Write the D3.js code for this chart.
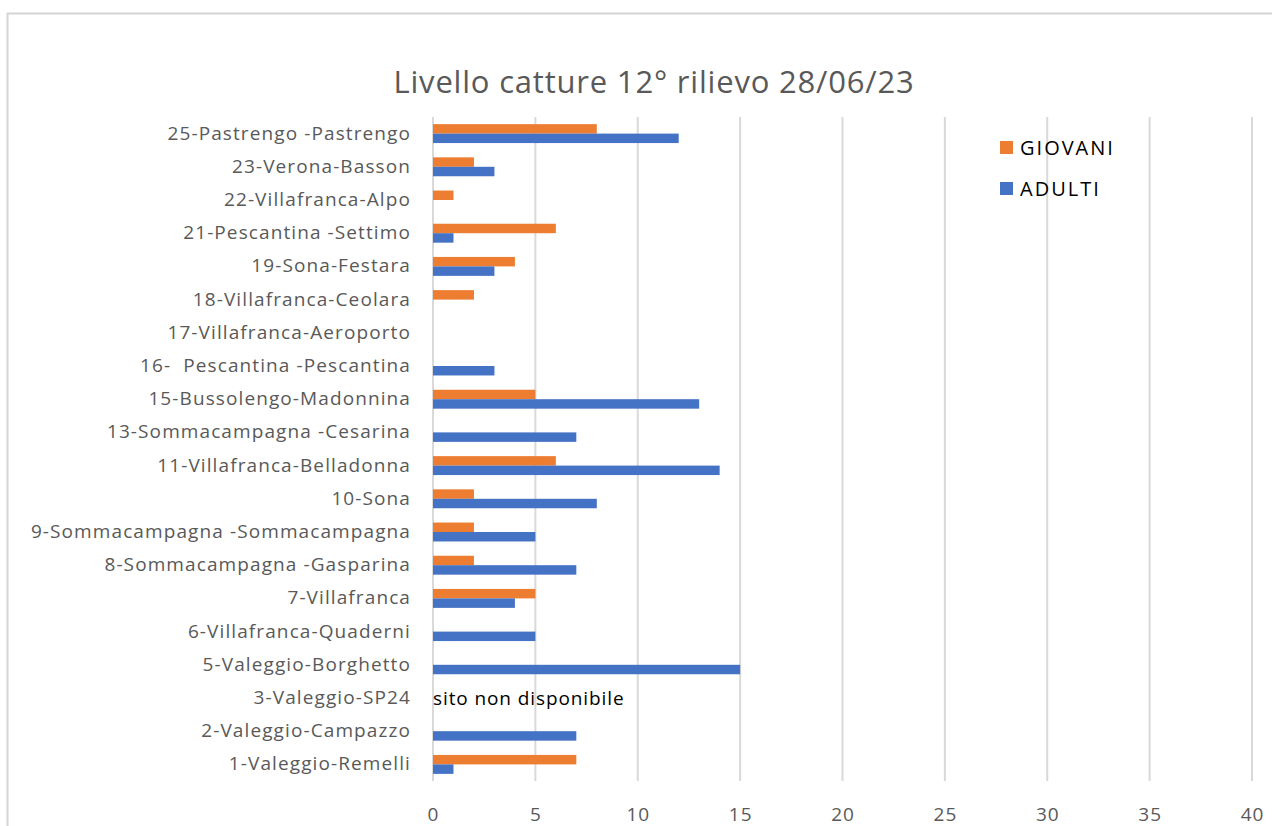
<!DOCTYPE html>
<html>
<head>
<meta charset="utf-8">
<script src="https://cdn.jsdelivr.net/npm/d3@7"></script>
<style>
  body { margin: 0; background: #fff; }
  text { font-family: "Open Sans", "Liberation Sans", sans-serif; }
</style>
</head>
<body>
<div id="chart"></div>
<script>
// Chart data (top to bottom as in the picture)
var categories = [
    "25-Pastrengo -Pastrengo", "23-Verona-Basson", "22-Villafranca-Alpo",
    "21-Pescantina -Settimo", "19-Sona-Festara", "18-Villafranca-Ceolara",
    "17-Villafranca-Aeroporto", "16-  Pescantina -Pescantina", "15-Bussolengo-Madonnina",
    "13-Sommacampagna -Cesarina", "11-Villafranca-Belladonna", "10-Sona",
    "9-Sommacampagna -Sommacampagna", "8-Sommacampagna -Gasparina", "7-Villafranca",
    "6-Villafranca-Quaderni", "5-Valeggio-Borghetto", "3-Valeggio-SP24",
    "2-Valeggio-Campazzo", "1-Valeggio-Remelli"
];
var giovani = [8, 2, 1, 6, 4, 2, 0, 0, 5, 0, 6, 2, 2, 2, 5, 0, 0, null, 0, 7];
var adulti  = [12, 3, 0, 1, 3, 0, 0, 3, 13, 7, 14, 8, 5, 7, 4, 5, 15, null, 7, 1];
var seriesNames = ["GIOVANI", "ADULTI"];
var seriesColors = ["#ED7D31", "#4472C4"];
var xTicks = [0, 5, 10, 15, 20, 25, 30, 35, 40];
var noteCategory = "3-Valeggio-SP24";
var noteText = "sito non disponibile";

var svgWidth = 1272;
var svgHeight = 826;

var svg = d3.select("#chart")
    .append("svg")
    .attr("width", svgWidth)
    .attr("height", svgHeight);

// outer frame
svg.append("rect")
    .attr("x", 7.5).attr("y", 13.5)
    .attr("width", 1300).attr("height", 900)
    .attr("fill", "#fff")
    .attr("stroke", "#d4d4d4")
    .attr("stroke-width", 2);

var plot = { left: 433, right: 1252, top: 117, bottom: 781 };

var x = d3.scaleLinear()
    .domain([0, 40])
    .range([plot.left, plot.right]);

var y = d3.scaleBand()
    .domain(categories)
    .range([plot.top, plot.bottom])
    .paddingInner(0.43)
    .paddingOuter(0.215);

var inner = d3.scaleBand()
    .domain(seriesNames)
    .range([0, y.bandwidth()]);

// gridlines
svg.append("g")
    .selectAll("line")
    .data(xTicks)
    .enter()
    .append("line")
    .attr("x1", d => x(d)).attr("x2", d => x(d))
    .attr("y1", plot.top).attr("y2", plot.bottom)
    .attr("stroke", "#d9d9d9")
    .attr("stroke-width", 2);

// x axis labels
var bottomAxis = d3.axisBottom(x).tickValues(xTicks).tickSize(0).tickPadding(0);
var xAxis = svg.append("g")
    .attr("transform", `translate(0, ${plot.bottom})`)
    .call(bottomAxis);
xAxis.select(".domain").remove();
xAxis.selectAll("text")
    .attr("y", 40)
    .attr("dy", 0)
    .attr("fill", "#595959")
    .attr("font-size", "19px")
    .attr("letter-spacing", "1px")
    .style("font-family", "'Open Sans', sans-serif");

// category labels
var leftAxis = d3.axisLeft(y).tickSize(0).tickPadding(22);
var yAxis = svg.append("g")
    .attr("transform", `translate(${plot.left}, 0)`)
    .call(leftAxis);
yAxis.select(".domain").remove();
yAxis.selectAll("text")
    .attr("fill", "#595959")
    .attr("font-size", "19px")
    .attr("letter-spacing", "1.1px")
    .style("font-family", "'Open Sans', sans-serif")
    .style("white-space", "pre");

// bars
var rows = categories.map((c, i) => ({ cat: c, values: [giovani[i], adulti[i]] }));
var groups = svg.append("g")
    .selectAll("g")
    .data(rows)
    .enter()
    .append("g")
    .attr("transform", d => `translate(0, ${y(d.cat)})`);

groups.selectAll("rect")
    .data(d => d.values.map((v, j) => ({ name: seriesNames[j], value: v, color: seriesColors[j] })))
    .enter()
    .filter(d => d.value)
    .append("rect")
    .attr("x", x(0))
    .attr("y", d => inner(d.name))
    .attr("width", d => x(d.value) - x(0))
    .attr("height", inner.bandwidth())
    .attr("fill", d => d.color);

// note for missing site
svg.append("text")
    .attr("x", x(0))
    .attr("y", y(noteCategory) + y.bandwidth() / 2)
    .attr("dy", "0.35em")
    .attr("font-size", "19px")
    .attr("letter-spacing", "0.9px")
    .attr("fill", "#000")
    .text(noteText);

// title
svg.append("text")
    .attr("x", 654)
    .attr("y", 93)
    .attr("text-anchor", "middle")
    .attr("font-size", "31px")
    .attr("letter-spacing", "0.8px")
    .attr("fill", "#595959")
    .text("Livello catture 12° rilievo 28/06/23");

// legend
var legend = svg.append("g")
    .selectAll("g")
    .data(seriesNames)
    .enter()
    .append("g")
    .attr("transform", (d, i) => `translate(1000, ${141 + i * 41})`);

legend.append("rect")
    .attr("width", 13).attr("height", 13)
    .attr("fill", (d, i) => seriesColors[i]);

legend.append("text")
    .attr("x", 20)
    .attr("y", 7)
    .attr("dy", "0.35em")
    .attr("font-size", "20px")
    .attr("letter-spacing", "2px")
    .attr("fill", "#000")
    .text(d => d);
</script>
</body>
</html>
